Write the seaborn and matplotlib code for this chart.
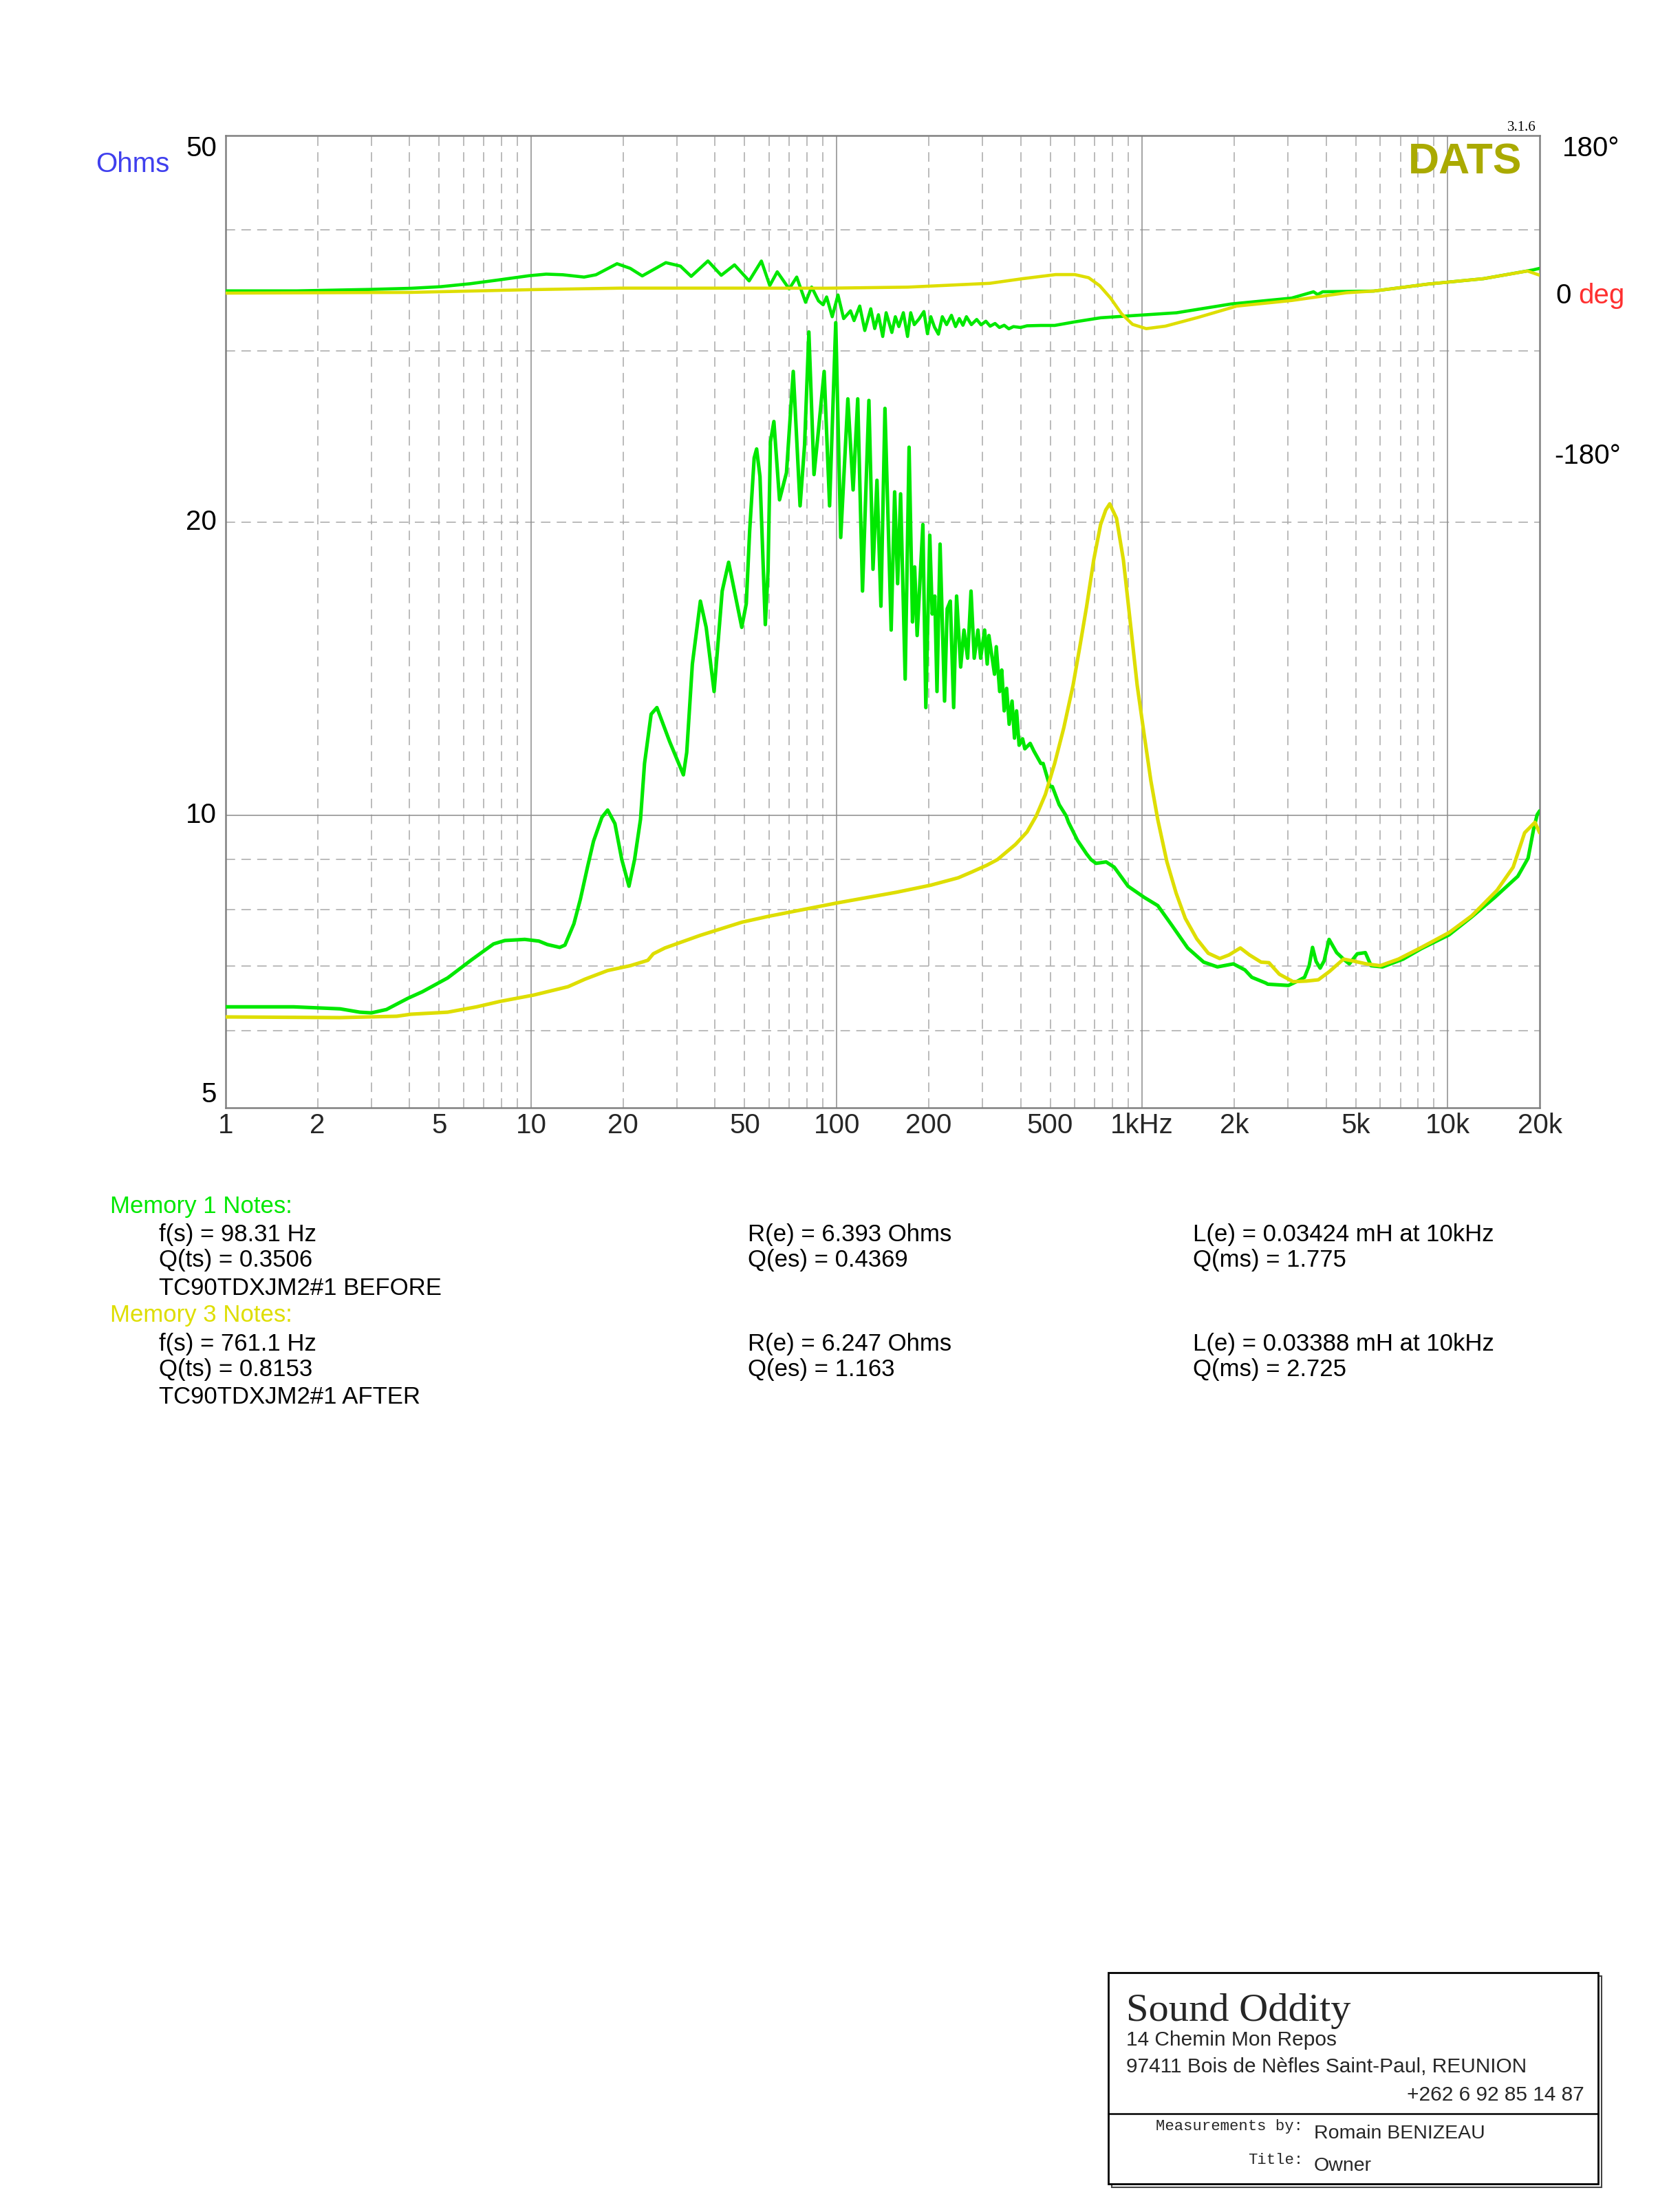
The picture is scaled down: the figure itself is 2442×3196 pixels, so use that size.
import matplotlib
matplotlib.use("Agg")
import matplotlib.pyplot as plt
import matplotlib.transforms as mtransforms
from matplotlib.patches import Rectangle
from matplotlib.lines import Line2D
from matplotlib.ticker import NullLocator, NullFormatter
import seaborn as sns

# ---------------- data ----------------
# Memory 1 (BEFORE) impedance, Ohms
freq_imp_before = [1, 1.35, 1.67, 2.37, 2.75, 3.0, 3.36, 3.95, 4.4, 5.33, 6.35, 7.53, 8.2, 9.53,
                   10.6, 11.3, 12.4, 12.9, 13.8, 14.5, 15.3, 16.0, 17.05, 17.8, 18.8, 19.8, 20.9,
                   21.8, 22.8, 23.5, 24.7, 25.8, 28.4, 31.5, 32.3, 33.7, 35.8, 37.4, 39.7, 42.2,
                   44.3, 46.8, 48.9, 50.6, 51.9, 53.7, 54.7, 56.1, 58.4, 59.6, 60.7, 62.3, 65.0,
                   68.5, 72.1, 75.9, 78.5, 81.1, 84.3, 87.2, 91.0, 94.8, 99.3, 103.1, 108.8,
                   113.2, 117.2, 121.5, 127.5, 131.5, 135.5, 139.6, 143.9, 150.8, 154.8, 158.3,
                   161.9, 167.6, 172.6, 177.1, 180, 183.4, 191.5, 195.8, 201.7, 205.5, 209.5,
                   213, 218, 225.5, 230, 235.5, 241.5, 246.9, 254.6, 261, 268.3, 275.3, 282,
                   290, 296, 305, 311, 315, 328.6, 333, 341.6, 347, 353.5, 360, 367, 375, 382,
                   388, 395.5, 406, 413, 430, 442, 466, 474, 499, 508, 535, 564, 574, 614, 658,
                   680, 706, 762, 810, 899, 1015, 1125, 1248, 1409, 1589, 1763, 1989, 2169,
                   2285, 2535, 2578, 3011, 3228, 3400, 3520, 3611, 3710, 3824, 3940, 4091,
                   4331, 4560, 4764, 5058, 5376, 5613, 6117, 7146, 8205, 10100, 12000, 14260,
                   16960, 18330, 19130, 19630, 20000]
imp_before = [6.35, 6.35, 6.35, 6.32, 6.27, 6.26, 6.31, 6.48, 6.58, 6.80, 7.09, 7.37, 7.43, 7.45,
              7.42, 7.36, 7.31, 7.35, 7.73, 8.2, 8.85, 9.4, 9.95, 10.12, 9.8, 9.0, 8.45,
              9.0, 9.9, 11.3, 12.7, 12.9, 11.9, 11.0, 11.6, 14.3, 16.6, 15.6, 13.4, 17.0,
              18.2, 16.7, 15.6, 16.5, 19.6, 23.3, 23.8, 22.3, 15.7, 17.8, 24.2, 25.4, 21.1,
              22.5, 28.6, 20.8, 24.0, 31.4, 22.4, 24.9, 28.6, 20.8, 32.1, 19.3, 26.8,
              21.6, 26.8, 17.0, 26.7, 17.9, 22.1, 16.4, 26.2, 15.5, 21.5, 17.3,
              21.4, 13.8, 23.9, 15.8, 18.0, 15.3, 19.9, 12.9, 19.4, 16.1, 16.8,
              13.4, 19.0, 13.1, 16.3, 16.6, 12.9, 16.8, 14.2, 15.5, 14.5, 17.0, 14.5,
              15.5, 14.5, 15.5, 14.3, 15.3, 13.96, 14.9, 13.4, 14.1, 12.8, 13.5, 12.4, 13.1, 12.0,
              12.8, 11.8, 11.98, 11.7, 11.85, 11.64, 11.3, 11.3, 10.7, 10.7, 10.25, 9.98, 9.83, 9.42, 9.12,
              9.0, 8.92, 8.95, 8.84, 8.45, 8.23, 8.07, 7.71, 7.30, 7.06, 6.98, 7.03, 6.93,
              6.81, 6.72, 6.70, 6.68, 6.75, 6.81, 7.00, 7.31, 7.07, 6.96, 7.08, 7.45,
              7.22, 7.11, 7.03, 7.2, 7.22, 7.0, 6.98, 7.11, 7.29, 7.53, 7.86, 8.23,
              8.65, 9.03, 9.69, 10.01, 10.1]

# Memory 3 (AFTER) impedance, Ohms
freq_imp_after = [1, 2.37, 3.63, 4.04, 5.33, 6.63, 7.87, 10.2, 13.2, 15.0, 17.8, 21.1, 24.1, 25.1,
                  27.4, 35.7, 49, 60, 100, 157, 203, 250, 277, 310, 336, 385, 420, 450, 482, 517,
                  554, 594, 625, 658, 694, 731, 760, 783, 824, 868, 914, 963, 1015, 1068, 1125,
                  1205, 1292, 1384, 1509, 1645, 1794, 1923, 2096, 2246, 2449, 2600, 2812, 3119,
                  3459, 3772, 4091, 4560, 4887, 5420, 6012, 6902, 8205, 10100, 12000, 14510,
                  16380, 17860, 19300, 20000]
imp_after = [6.20, 6.19, 6.21, 6.24, 6.27, 6.35, 6.43, 6.53, 6.66, 6.78, 6.92, 7.0, 7.09, 7.2,
             7.30, 7.52, 7.76, 7.87, 8.12, 8.33, 8.47, 8.62, 8.74, 8.88, 9.0, 9.33, 9.61, 9.98,
             10.5, 11.3, 12.3, 13.6, 14.9, 16.4, 18.3, 19.9, 20.6, 20.9, 20.2, 18.3, 15.8, 13.6,
             12.1, 10.84, 9.89, 8.95, 8.31, 7.83, 7.46, 7.21, 7.12, 7.18, 7.30, 7.18, 7.06, 7.05,
             6.86, 6.74, 6.75, 6.77, 6.90, 7.11, 7.08, 7.03, 7.0, 7.11, 7.31, 7.57, 7.88, 8.37,
             8.84, 9.59, 9.83, 9.59]

# Memory 1 (BEFORE) phase, degrees
freq_ph_before = [1, 1.71, 2.94, 4.04, 5.05, 6.3, 7.87, 9.83, 11.2, 12.7, 14.9, 16.3, 19.1, 21.1,
                  23.1, 27.6, 30.8, 33.4, 37.9, 41.9, 46.3, 51.7, 56.7, 60.4, 63.9, 69.9, 74,
                  79.1, 82.8, 87.2, 90.3, 92.7, 96.7, 101, 105.4, 111, 114, 119, 123.6, 129.3,
                  133.2, 137, 141.5, 145.2, 151.6, 155.6, 159.8, 165.3, 170.6, 174.7, 179.5,
                  186, 193, 198.2, 203.3, 209, 215.3, 221.7, 229, 237.5, 245, 252, 259, 265.9,
                  276, 287.3, 297, 307.8, 318, 329.9, 341, 353.5, 366, 378.9, 400, 420, 466,
                  517, 604, 731, 930, 1294, 1955, 3084, 3638, 3750, 3900, 5730, 8650, 13100,
                  19000, 20000]
phase_before = [5.6, 5.6, 7.2, 8.5, 10.3, 13.6, 18.0, 22.6, 24.4, 23.7, 21.1, 23.7, 36.1, 30.9,
                22.4, 37.3, 33.4, 21.9, 39.2, 23.1, 34.8, 16.8, 39.1, 11.6, 27.0, 7.8, 21.1,
                -7.2, 9.9, -5.6, -10.0, -1.2, -23.4, 1.0, -25.5, -16.8, -27.8, -11.4, -38.9, -14.5,
                -36.7, -21.2, -45.6, -18.9, -41.1, -23.4, -34.5, -18.9, -45.6, -18.9, -32.3,
                -26.0, -17.6, -42.5, -23.4, -35.0, -43.0, -23.4, -32.3, -21.8, -34.5, -25.5,
                -33.0, -23.4, -32.3, -26.5, -32.5, -28.5, -34.0, -31.0, -35.5, -33.0, -37.0,
                -34.5, -35.5, -33.6, -33.2, -33.2, -29.1, -24.6, -22.2, -19.0, -9.1, -2.5,
                4.6, 1.5, 4.6, 5.4, 13.3, 19.3, 29.1, 30.9]

# Memory 3 (AFTER) phase, degrees
freq_ph_after = [1, 4, 6.7, 10.1, 19.6, 45, 91.8, 171, 317, 406, 521, 602, 668, 726, 788, 856,
                 930, 1031, 1191, 1527, 2038, 3084, 4665, 5730, 8650, 13100, 18240, 20000]
phase_after = [3.1, 3.9, 5.6, 7.0, 8.7, 8.7, 8.6, 9.8, 14.1, 19.3, 23.9, 23.9, 20.4, 11.4, -2.5,
               -20.1, -32.0, -36.8, -34.0, -24.1, -11.5, -5.2, 3.5, 5.4, 13.3, 19.3, 27.9, 23.2]

xtick_vals = [1, 2, 5, 10, 20, 50, 100, 200, 500, 1000, 2000, 5000, 10000, 20000]
xtick_labels = ["1", "2", "5", "10", "20", "50", "100", "200", "500", "1kHz", "2k", "5k", "10k", "20k"]
ytick_vals = [50, 20, 10, 5]
ytick_labels = ["50", "20", "10", "5"]
phase_tick_vals = [180, -180]
phase_tick_labels = ["180°", "-180°"]

notes1_title = "Memory 1 Notes:"
notes1_col1 = ["f(s) = 98.31 Hz", "Q(ts) = 0.3506", "TC90TDXJM2#1 BEFORE"]
notes1_col2 = ["R(e) = 6.393 Ohms", "Q(es) = 0.4369"]
notes1_col3 = ["L(e) = 0.03424 mH at 10kHz", "Q(ms) = 1.775"]
notes3_title = "Memory 3 Notes:"
notes3_col1 = ["f(s) = 761.1 Hz", "Q(ts) = 0.8153", "TC90TDXJM2#1 AFTER"]
notes3_col2 = ["R(e) = 6.247 Ohms", "Q(es) = 1.163"]
notes3_col3 = ["L(e) = 0.03388 mH at 10kHz", "Q(ms) = 2.725"]

# ---------------- style ----------------
sns.set_style("white")
plt.rcParams['font.family'] = ['Liberation Sans', 'DejaVu Sans']

GREEN = "#00e800"
YELLOW = "#dede00"
GRID_DASH = "#a8a8a8"
GRID_SOLID = "#8c8c8c"

W, H = 2442, 3196
fig = plt.figure(figsize=(W / 100, H / 100), dpi=100)
fig.patch.set_facecolor("white")


def fx(px):
    return px / W


def fy(py):
    return 1 - py / H


L, R, T, B = 328, 2238, 197, 1610
ax = fig.add_axes([fx(L), fy(B), (R - L) / W, (B - T) / H])
ax.set_xscale("log")
ax.set_yscale("log")
ax.set_xlim(1, 20000)
ax.set_ylim(5, 50)
ax.set_facecolor("white")

# grid
xgrid_minor = [m * 10 ** d for d in range(0, 5) for m in range(2, 10) if m * 10 ** d < 20000]
for v in xgrid_minor:
    ax.axvline(v, color=GRID_DASH, lw=1.1, dashes=(9, 6), zorder=0.5)
for v in [10, 100, 1000, 10000]:
    ax.axvline(v, color=GRID_SOLID, lw=1.1, zorder=0.6)
for v in [6, 7, 8, 9, 20, 30, 40]:
    ax.axhline(v, color=GRID_DASH, lw=1.1, dashes=(9, 6), zorder=0.5)
ax.axhline(10, color=GRID_SOLID, lw=1.1, zorder=0.6)

for s in ax.spines.values():
    s.set_color("#808080")
    s.set_linewidth(1.8)

# impedance curves
sns.lineplot(x=freq_imp_before, y=imp_before, ax=ax, color=GREEN, lw=3.7,
             estimator=None, sort=False, zorder=3)
sns.lineplot(x=freq_imp_after, y=imp_after, ax=ax, color=YELLOW, lw=3.7,
             estimator=None, sort=False, zorder=4)

ax.set_xticks(xtick_vals)
ax.set_xticklabels(xtick_labels, fontsize=29)
ax.xaxis.set_minor_locator(NullLocator())
ax.xaxis.set_minor_formatter(NullFormatter())
ax.set_yticks([])
ax.yaxis.set_minor_locator(NullLocator())
ax.tick_params(axis="x", length=0, pad=5)
ax.set_xlabel("")
ax.set_ylabel("")
ax.set_xlim(1, 20000)
ax.set_ylim(5, 50)

# y tick labels (left)
ytr = mtransforms.blended_transform_factory(ax.transAxes, ax.transData)
for v, lab in zip(ytick_vals, ytick_labels):
    va = "top" if v == max(ytick_vals) else ("bottom" if v == min(ytick_vals) else "center")
    ax.text(-0.0068, v, lab, transform=ytr, ha="right", va=va, fontsize=29, color="black")

# phase axis
ax2 = ax.twinx()
ax2.set_ylim(-911.55, 180)
sns.lineplot(x=freq_ph_before, y=phase_before, ax=ax2, color=GREEN, lw=3.3,
             estimator=None, sort=False, zorder=3)
sns.lineplot(x=freq_ph_after, y=phase_after, ax=ax2, color=YELLOW, lw=3.3,
             estimator=None, sort=False, zorder=4)
ax2.set_ylim(-911.55, 180)
ax2.set_xlim(1, 20000)
ax2.set_yticks([])
ax2.yaxis.set_minor_locator(NullLocator())
ax2.set_ylabel("")
for s in ax2.spines.values():
    s.set_visible(False)

ptr = mtransforms.blended_transform_factory(ax2.transAxes, ax2.transData)
ax2.text(1.0173, phase_tick_vals[0], phase_tick_labels[0], transform=ptr, ha="left", va="top",
         fontsize=29, color="black")
ax2.text(1.0110, phase_tick_vals[1], phase_tick_labels[1], transform=ptr, ha="left", va="center",
         fontsize=29, color="black")
ax2.text(1.0120, 0, "0", transform=ptr, ha="left", va="center", fontsize=29, color="black")
ax2.text(1.0293, 0, "deg", transform=ptr, ha="left", va="center", fontsize=29, color="#ff3030")

# axis unit + brand
fig.text(fx(193), fy(239), "Ohms", ha="center", va="center", fontsize=29, color="#4040ee")
ax.text(0.9865, 0.9724, "DATS", transform=ax.transAxes, ha="right", va="center",
        fontsize=45, fontweight="bold", color="#aaaa00")
fig.text(fx(2233), fy(190), "3.1.6", ha="right", va="baseline", fontsize=15,
         family=["Liberation Serif", "DejaVu Serif"], color="black")

# notes
NOTE_FS = 25
fig.text(fx(160), fy(1753), notes1_title, color=GREEN, fontsize=NOTE_FS, va="center")
for i, y in enumerate([1795, 1832, 1872]):
    fig.text(fx(231), fy(y), notes1_col1[i], color="black", fontsize=NOTE_FS, va="center")
for i, y in enumerate([1795, 1832]):
    fig.text(fx(1087), fy(y), notes1_col2[i], color="black", fontsize=NOTE_FS, va="center")
    fig.text(fx(1734), fy(y), notes1_col3[i], color="black", fontsize=NOTE_FS, va="center")
fig.text(fx(160), fy(1912), notes3_title, color=YELLOW, fontsize=NOTE_FS, va="center")
for i, y in enumerate([1953, 1991, 2030]):
    fig.text(fx(231), fy(y), notes3_col1[i], color="black", fontsize=NOTE_FS, va="center")
for i, y in enumerate([1953, 1991]):
    fig.text(fx(1087), fy(y), notes3_col2[i], color="black", fontsize=NOTE_FS, va="center")
    fig.text(fx(1734), fy(y), notes3_col3[i], color="black", fontsize=NOTE_FS, va="center")

# title block
bx0, bx1, by0, by1 = 1611, 2323, 2867, 3174
shadow = Rectangle((fx(bx0 + 5), fy(by1 + 5)), (bx1 - bx0) / W, (by1 - by0) / H,
                   transform=fig.transFigure, fill=False, edgecolor="#444444", lw=1.5, zorder=1)
fig.add_artist(shadow)
box = Rectangle((fx(bx0), fy(by1)), (bx1 - bx0) / W, (by1 - by0) / H,
                transform=fig.transFigure, facecolor="white", edgecolor="black", lw=2.0, zorder=2)
fig.add_artist(box)
fig.add_artist(Line2D([fx(bx0), fx(bx1)], [fy(3072), fy(3072)], transform=fig.transFigure,
                      color="black", lw=1.8, zorder=3))
fig.text(fx(1637), fy(2937), "Sound Oddity", family=["Liberation Serif", "DejaVu Serif"],
         fontsize=42, va="baseline", ha="left", zorder=4)
fig.text(fx(1637), fy(2973), "14 Chemin Mon Repos", fontsize=21.5, va="baseline", ha="left", zorder=4)
fig.text(fx(1637), fy(3012), "97411 Bois de Nèfles Saint-Paul, REUNION", fontsize=21.5,
         va="baseline", ha="left", zorder=4)
fig.text(fx(2303), fy(3053), "+262 6 92 85 14 87", fontsize=21.5, va="baseline", ha="right", zorder=4)
fig.text(fx(1894), fy(3096), "Measurements by:", family=["Liberation Mono", "DejaVu Sans Mono"],
         fontsize=16, va="baseline", ha="right", zorder=4)
fig.text(fx(1910), fy(3108), "Romain BENIZEAU", fontsize=20.5, va="baseline", ha="left", zorder=4)
fig.text(fx(1894), fy(3145), "Title:", family=["Liberation Mono", "DejaVu Sans Mono"],
         fontsize=16, va="baseline", ha="right", zorder=4)
fig.text(fx(1910), fy(3155), "Owner", fontsize=20.5, va="baseline", ha="left", zorder=4)

fig.savefig("out.png", dpi=100, facecolor="white")
